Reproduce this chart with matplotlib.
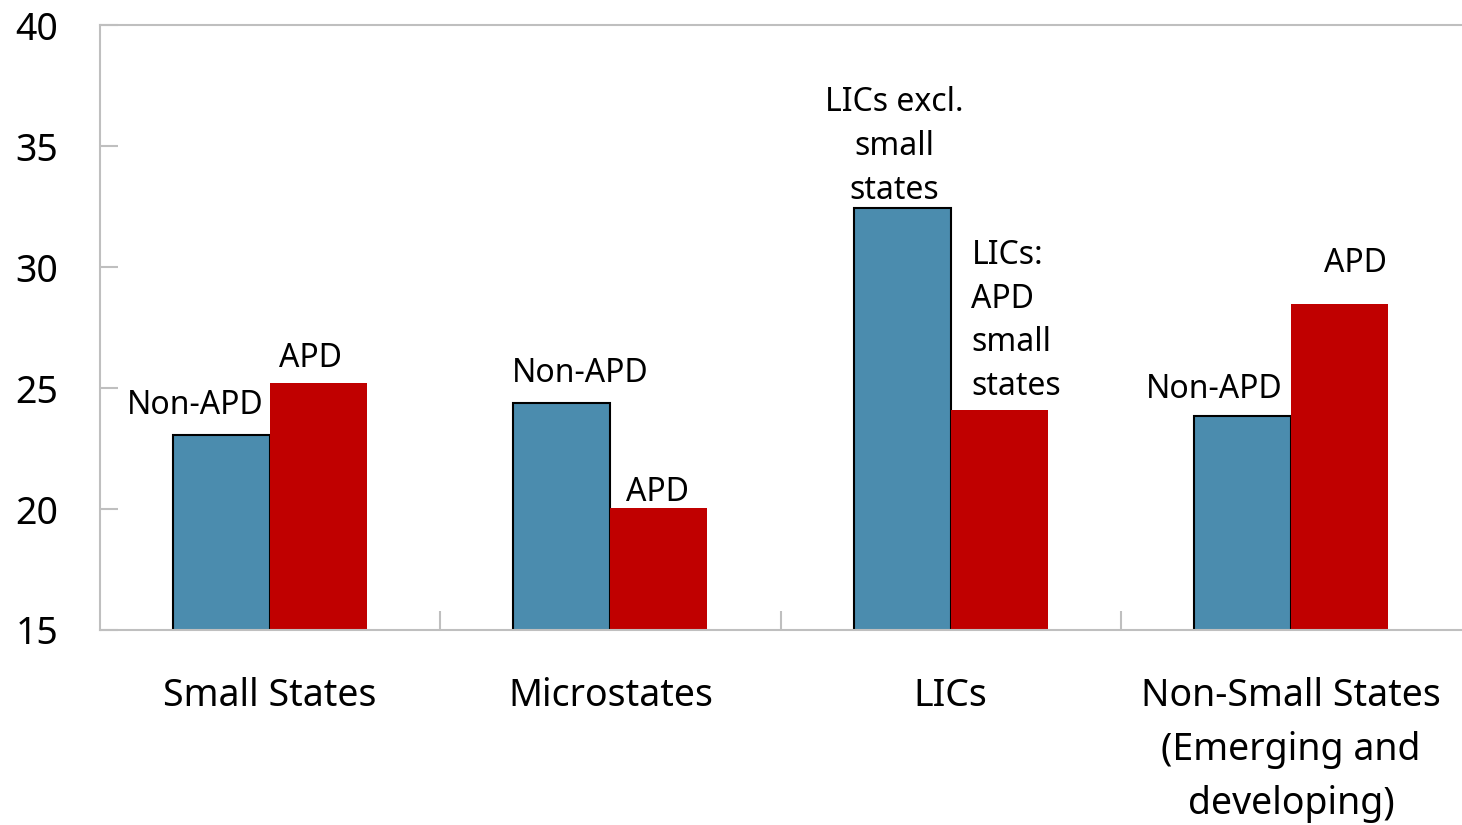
import matplotlib.pyplot as plt
import numpy as np

# chart data
categories = ["Small States", "Microstates", "LICs",
              "Non-Small States\n(Emerging and\ndeveloping)"]
non_apd = [23.06, 24.38, 32.44, 23.84]
apd = [25.2, 20.04, 24.09, 28.47]

# bar annotations: (text, x, y, ha)
notes = [
    ("Non-APD", -0.221, 23.93, "center"),
    ("APD", 0.120, 25.87, "center"),
    ("Non-APD", 0.910, 25.25, "center"),
    ("APD", 1.139, 20.33, "center"),
    ("LICs excl.\nsmall\nstates", 1.835, 32.81, "center"),
    ("LICs:\nAPD\nsmall\nstates", 2.061, 24.71, "left"),
    ("Non-APD", 2.775, 24.59, "center"),
    ("APD", 3.189, 29.79, "center"),
]

plt.rcParams['font.family'] = ['Noto Sans', 'DejaVu Sans']

fig = plt.figure(figsize=(14.62, 8.25), dpi=100)
ax = fig.add_axes([100 / 1462, 1 - 630 / 825, 1361 / 1462, 605 / 825])

x = np.arange(len(categories))
w = 0.285
ax.bar(x - w / 2, non_apd, w, color="#4B8CAE", edgecolor="black",
       linewidth=1.5, zorder=2)
ax.bar(x + w / 2, apd, w, color="#C00000", edgecolor="none", zorder=2)

for txt, tx, ty, ha in notes:
    ax.text(tx, ty, txt, ha=ha, va="baseline", fontsize=23, linespacing=1.43)

ax.set_xlim(-0.5, 3.5)
ax.set_ylim(15, 40)
ax.set_yticks([15, 20, 25, 30, 35, 40])

ax.set_xticks(x)
ax.set_xticklabels(categories, fontsize=27, linespacing=1.56)
ax.set_xticks([0.5, 1.5, 2.5], minor=True)
ax.tick_params(axis="x", which="major", length=0, pad=33.5)
ax.tick_params(axis="x", which="minor", direction="in", length=14,
               color="#bfbfbf", width=1.5)
ax.tick_params(axis="y", direction="in", length=13, color="#bfbfbf",
               width=1.5, labelsize=27, pad=30)

for s in ["left", "top", "bottom"]:
    ax.spines[s].set_color("#bfbfbf")
    ax.spines[s].set_linewidth(1.5)
ax.spines["right"].set_visible(False)

fig.savefig("out.png", dpi=100)
